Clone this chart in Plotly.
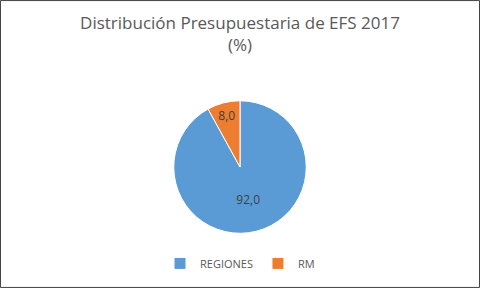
import plotly.graph_objects as go

categories = ["REGIONES", "RM"]
values = [92.0, 8.0]
colors = ["#5B9BD5", "#ED7D31"]
title_text = "Distribución Presupuestaria de EFS 2017<br>(%)"

fig = go.Figure()
fig.add_trace(go.Pie(
    labels=categories,
    values=values,
    sort=False,
    direction="clockwise",
    rotation=0,
    marker=dict(colors=colors, line=dict(color="white", width=1)),
    texttemplate="%{value:.1f}",
    textposition="inside",
    insidetextfont=dict(color="#404040", size=12, family="Open Sans"),
    hoverinfo="label+value",
    domain=dict(x=[0.2, 0.8], y=[0.19, 0.65]),
))

fig.update_layout(
    width=480,
    height=288,
    margin=dict(l=0, r=0, t=0, b=0),
    paper_bgcolor="white",
    plot_bgcolor="white",
    separators=",.",
    title=dict(
        text=title_text,
        x=0.5, xanchor="center",
        y=0.90, yanchor="top",
        font=dict(family="Open Sans", size=17, color="#595959"),
    ),
    legend=dict(
        orientation="h",
        x=0.5, xanchor="center",
        y=0.035, yanchor="bottom",
        font=dict(family="Open Sans", size=11, color="#595959"),
        itemwidth=30,
    ),
    shapes=[dict(
        type="rect", xref="paper", yref="paper",
        x0=0.001, y0=0.002, x1=0.999, y1=0.998,
        line=dict(color="#404040", width=1),
    )],
)

fig.write_html("out.html")
